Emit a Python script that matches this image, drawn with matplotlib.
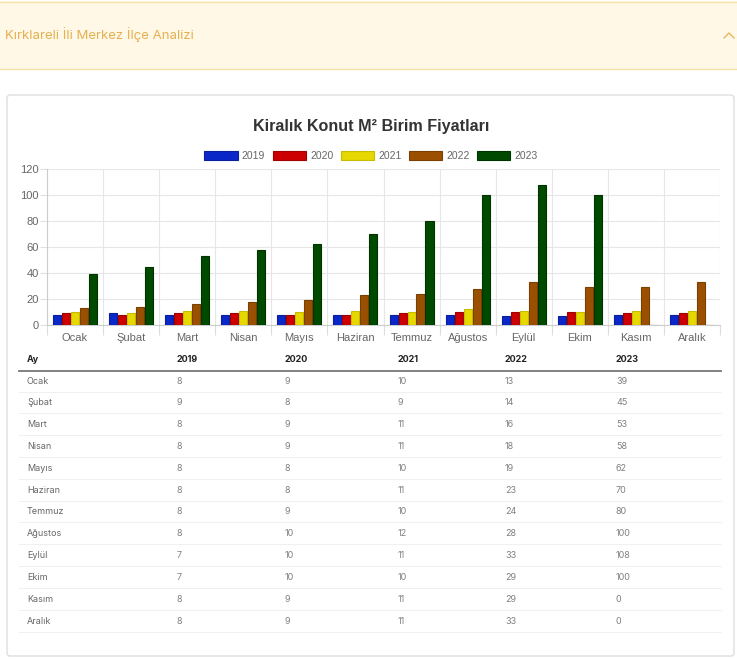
import matplotlib.pyplot as plt
from matplotlib.patches import Rectangle, FancyBboxPatch, Patch

W, H = 737, 659

months = ["Ocak", "Şubat", "Mart", "Nisan", "Mayıs", "Haziran",
          "Temmuz", "Ağustos", "Eylül", "Ekim", "Kasım", "Aralık"]
years = ["2019", "2020", "2021", "2022", "2023"]
v2019 = [8, 9, 8, 8, 8, 8, 8, 8, 7, 7, 8, 8]
v2020 = [9, 8, 9, 9, 8, 8, 9, 10, 10, 10, 9, 9]
v2021 = [10, 9, 11, 11, 10, 11, 10, 12, 11, 10, 11, 11]
v2022 = [13, 14, 16, 18, 19, 23, 24, 28, 33, 29, 29, 33]
v2023 = [39, 45, 53, 58, 62, 70, 80, 100, 108, 100, 0, 0]
series = [v2019, v2020, v2021, v2022, v2023]

colors = ["#0a28c8", "#cc0000", "#e6d800", "#9a5000", "#004a00"]
edges = ["#0a1f9a", "#a00000", "#c8bc00", "#7a4000", "#003300"]

fig = plt.figure(figsize=(W / 100, H / 100), dpi=100)

# background layer in pixel coordinates
bg = fig.add_axes([0, 0, 1, 1], zorder=0)
bg.set_xlim(0, W)
bg.set_ylim(H, 0)
bg.axis("off")

# accordion header
bg.add_patch(Rectangle((0, 1), W, 68, facecolor="#fff8e7", edgecolor="none"))
bg.plot([0, W], [1.5, 1.5], color="#f6e3a8", lw=1)
bg.plot([0, W], [69, 69], color="#f6e3a8", lw=1)
bg.text(5, 35, "Kırklareli İli Merkez İlçe Analizi", fontsize=9.5,
        color="#e4b050", va="center", ha="left", family="Inter")
bg.plot([724, 729, 734], [38, 33, 38], color="#e4b050", lw=0.9)

# card
bg.add_patch(FancyBboxPatch((7, 95), 727, 561, boxstyle="round,pad=0,rounding_size=3",
                            facecolor="white", edgecolor="#dedede", lw=1))

# title
bg.text(371, 126, "Kiralık Konut M² Birim Fiyatları", fontsize=11.6, fontweight="bold",
        color="#333333", ha="center", va="center", family="Liberation Sans")

# table
col_x = [27, 177, 285, 398, 505, 616]
header_y = 360
row0 = 381
row_h = 21.82
tfont = "Inter"
bg.text(col_x[0], header_y, "Ay", fontsize=6.5, fontweight="bold", color="#222222",
        va="center", family=tfont)
for k, yr in enumerate(years):
    bg.text(col_x[k + 1], header_y, yr, fontsize=6.5, fontweight="bold", color="#222222",
            va="center", family=tfont)
bg.plot([19, 721], [370.5, 370.5], color="#777777", lw=1.3)
for i, m in enumerate(months):
    y = row0 + i * row_h
    bg.text(col_x[0], y, m, fontsize=6.5, color="#666666", va="center", family=tfont)
    for k, s in enumerate(series):
        bg.text(col_x[k + 1], y, str(s[i]), fontsize=6.5, color="#808080",
                va="center", family=tfont)
    bg.plot([19, 721], [y + 10.5, y + 10.5], color="#f0f0f0", lw=0.8)

# chart
ax = fig.add_axes([47 / W, (H - 325) / H, 673 / W, 156 / H], zorder=1)
ax.set_facecolor("none")
n = len(series)
slot = 0.8 / n
for j, s in enumerate(series):
    xs = [i - 0.4 + slot * (j + 0.5) for i in range(len(months))]
    ax.bar(xs, s, width=slot * 0.9, color=colors[j], edgecolor=edges[j], lw=0.8,
           zorder=3)

ax.set_xlim(-0.5, len(months) - 0.5)
ax.set_ylim(0, 120)
ax.set_yticks(range(0, 121, 20))
ax.set_xticks(range(len(months)))
ax.set_xticklabels(months)
ax.set_xticks([i - 0.5 for i in range(len(months) + 1)], minor=True)
ax.grid(True, which="minor", axis="x", color="#e6e6e6", lw=0.8)
ax.grid(True, which="major", axis="y", color="#e6e6e6", lw=0.8)
ax.tick_params(axis="x", which="major", length=0, pad=6, labelsize=8, labelcolor="#666666")
ax.tick_params(axis="x", which="minor", length=7, color="#dddddd", width=0.8)
ax.tick_params(axis="y", length=5, color="#e0e0e0", width=0.8, pad=1,
               labelsize=8, labelcolor="#666666")
for lab in ax.get_xticklabels() + ax.get_yticklabels():
    lab.set_family("Liberation Sans")
for side in ["top", "right"]:
    ax.spines[side].set_visible(False)
ax.spines["left"].set_color("#cccccc")
ax.spines["bottom"].set_color("#cccccc")
ax.spines["left"].set_linewidth(0.8)
ax.spines["bottom"].set_linewidth(0.8)

handles = [Patch(facecolor=colors[j], edgecolor=edges[j], lw=0.8) for j in range(n)]
fig.legend(handles, years, loc="center", bbox_to_anchor=(371 / W, 1 - 156 / H),
           ncol=n, frameon=False, handlelength=3.2, handleheight=0.95,
           handletextpad=0.4, columnspacing=0.7,
           prop={"family": "Liberation Sans", "size": 7.5}, labelcolor="#666666")

fig.savefig("out.png", dpi=100)
